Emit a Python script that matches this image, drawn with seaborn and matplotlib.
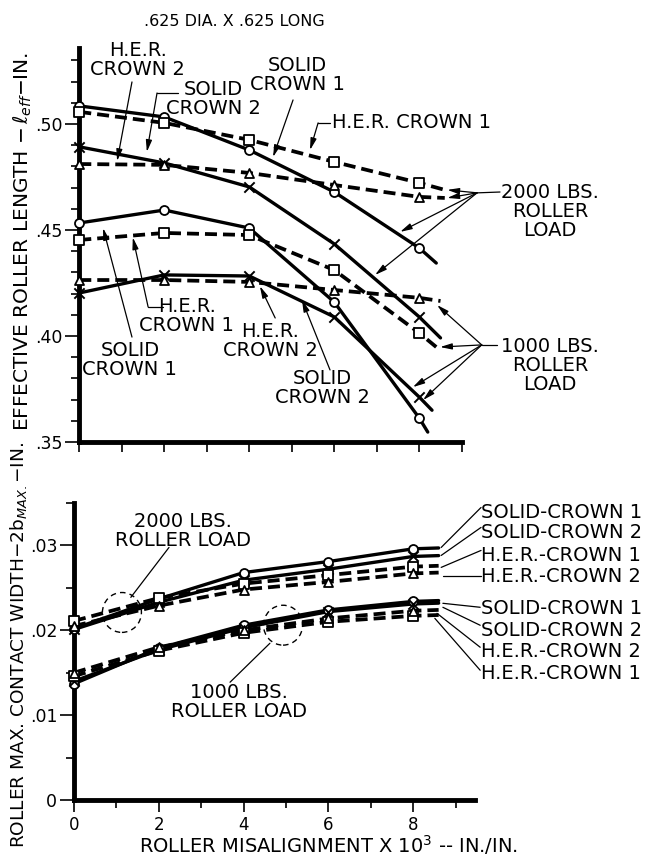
import numpy as np
import pandas as pd
import matplotlib
matplotlib.use('Agg')
import matplotlib.pyplot as plt
import seaborn as sns
from matplotlib.patches import Ellipse
from matplotlib.ticker import MultipleLocator

#----------------- values -------------------------------------

misalign = [0, 2, 4, 6, 8]          # roller misalignment x 10^3 in./in.

# effective roller length l_eff (in.) - top panel
leff_solid_c1_2000 = [.5085, .5033, .4877, .4679, .4415]
leff_solid_c2_2000 = [.4892, .4816, .4703, .4434, .4090]
leff_her_c1_2000 = [.5057, .5005, .4925, .4821, .4722]
leff_her_c2_2000 = [.4811, .4807, .4769, .4712, .4656]
leff_solid_c1_1000 = [.4533, .4594, .4509, .4160, .3613]
leff_solid_c2_1000 = [.4203, .4288, .4283, .4090, .3712]
leff_her_c1_1000 = [.4453, .4486, .4476, .4311, .4014]
leff_her_c2_1000 = [.4264, .4264, .4255, .4217, .4180]

# where each drawn curve stops past the last test point (x, l_eff)
leff_tails = {
    'solid_c1_2000': (8.4, .4344), 'solid_c2_2000': (8.5, .3991),
    'her_c1_2000': (8.6, .4689), 'her_c2_2000': (8.6, .4651),
    'solid_c1_1000': (8.2, .3547), 'solid_c2_1000': (8.3, .3650),
    'her_c1_1000': (8.4, .3948), 'her_c2_1000': (8.5, .4165),
}

# max contact width 2b_max (in.) - bottom panel
width_solid_c1_2000 = [.0202, .0237, .0268, .0281, .0296]
width_solid_c2_2000 = [.0201, .0233, .0259, .0272, .0287]
width_her_c1_2000 = [.0211, .0238, .0255, .0265, .0275]
width_her_c2_2000 = [.0205, .0229, .0248, .0257, .0267]
width_solid_c1_1000 = [.0137, .0179, .0206, .0224, .0234]
width_solid_c2_1000 = [.0140, .0177, .0203, .0222, .0231]
width_her_c1_1000 = [.0146, .0176, .0197, .0210, .0217]
width_her_c2_1000 = [.0150, .0180, .0200, .0214, .0223]

width_tails = {
    'solid_c1_2000': (8.6, .0297), 'solid_c2_2000': (8.6, .0288),
    'her_c1_2000': (8.6, .0276), 'her_c2_2000': (8.6, .0268),
    'solid_c1_1000': (8.6, .0235), 'solid_c2_1000': (8.6, .0232),
    'her_c1_1000': (8.6, .0218), 'her_c2_1000': (8.6, .0224),
}

leff = {
    'solid_c1_2000': leff_solid_c1_2000, 'solid_c2_2000': leff_solid_c2_2000,
    'her_c1_2000': leff_her_c1_2000, 'her_c2_2000': leff_her_c2_2000,
    'solid_c1_1000': leff_solid_c1_1000, 'solid_c2_1000': leff_solid_c2_1000,
    'her_c1_1000': leff_her_c1_1000, 'her_c2_1000': leff_her_c2_1000,
}
width = {
    'solid_c1_2000': width_solid_c1_2000, 'solid_c2_2000': width_solid_c2_2000,
    'her_c1_2000': width_her_c1_2000, 'her_c2_2000': width_her_c2_2000,
    'solid_c1_1000': width_solid_c1_1000, 'solid_c2_1000': width_solid_c2_1000,
    'her_c1_1000': width_her_c1_1000, 'her_c2_1000': width_her_c2_1000,
}

#----------------- drawing helpers ------------------

FS = 14
dash = (0, (3.2, 1.6))

def draw_curve(ax, name, ys, tail):
	solid = name.startswith('solid')
	mk = {'solid_c1': 'o', 'solid_c2': 'x', 'her_c1': 's', 'her_c2': '^'}[name[:-5]]
	xs = misalign + [tail[0]]
	yy = ys + [tail[1]]
	sns.lineplot(x=xs, y=yy, ax=ax, color='k', lw=2.4 if solid else 2.7,
	             linestyle='-' if solid else dash, estimator=None, sort=False, zorder=3)
	if mk == 'x':
		sns.scatterplot(x=misalign, y=ys, ax=ax, marker='x', color='k', s=55,
		                linewidth=1.4, zorder=5, clip_on=False)
	else:
		sns.scatterplot(x=misalign, y=ys, ax=ax, marker=mk, s=42, facecolor='white',
		                edgecolor='k', linewidth=1.3, zorder=5, clip_on=False)

def arrow(ax, start, tip):
	ax.annotate('', xy=tip, xytext=start, annotation_clip=False,
	            arrowprops=dict(arrowstyle='-|>,head_length=0.7,head_width=0.18',
	                            color='k', lw=0.9, shrinkA=0, shrinkB=0))

def leader(ax, start, end):
	ax.plot([start[0], end[0]], [start[1], end[1]], color='k', lw=0.9, clip_on=False)

def label(ax, txt, x, y, ha='center'):
	ax.text(x, y, txt, ha=ha, va='center', fontsize=FS, linespacing=1.0, clip_on=False)

def style_axes(ax):
	sns.despine(ax=ax)
	for s in ['left', 'bottom']:
		ax.spines[s].set_linewidth(3.5)
	ax.tick_params(which='major', length=10, width=1.2, pad=2, labelsize=12.5)
	ax.tick_params(which='minor', length=6, width=1.2)
	ax.set_xlabel('')
	ax.set_ylabel('')

#----------------- figure ------------------

sns.set_style('ticks')
plt.rcParams['font.family'] = ['DejaVu Sans']
plt.rcParams['mathtext.fontset'] = 'dejavusans'
for key in ['text.color', 'axes.labelcolor', 'xtick.color', 'ytick.color', 'axes.edgecolor']:
	plt.rcParams[key] = 'black'

fig = plt.figure(figsize=(6.59, 8.56), dpi=100)
ax1 = fig.add_axes([0.1203, 0.4836, 0.5804, 0.4603])
ax2 = fig.add_axes([0.1123, 0.0654, 0.6080, 0.3470])

# top panel
for name, ys in leff.items():
	draw_curve(ax1, name, ys, leff_tails[name])
ax1.set_xlim(0, 9)
ax1.set_ylim(.35, .5358)
ax1.xaxis.set_major_locator(MultipleLocator(1))
ax1.set_yticks([.35, .40, .45, .50])
ax1.set_yticklabels(['.35', '.40', '.45', '.50'])
ax1.yaxis.set_minor_locator(MultipleLocator(.01))
style_axes(ax1)
ax1.tick_params(axis='x', labelbottom=False, length=7)

for txt, x, y in [("H.E.R.\nCROWN 2", 1.38, .5302), ("SOLID\nCROWN 2", 3.15, .5118),
                  ("SOLID\nCROWN 1", 5.13, .5231), ("H.E.R.\nCROWN 1", 2.53, .4094),
                  ("SOLID\nCROWN 1", 1.19, .3887), ("H.E.R.\nCROWN 2", 4.49, .3976),
                  ("SOLID\nCROWN 2", 5.71, .3755),
                  ("2000 LBS.\nROLLER\nLOAD", 11.08, .4585),
                  ("1000 LBS.\nROLLER\nLOAD", 11.08, .3863)]:
	label(ax1, txt, x, y)
label(ax1, "H.E.R. CROWN 1", 5.95, .5005, ha='left')

for start, tip in [((1.24, .5198), (0.89, .4825)), ((1.83, .5146), (1.59, .4868)),
                   ((5.03, .5113), (4.56, .4844)), ((5.62, .5005), (5.43, .4877)),
                   ((9.36, .4675), (8.66, .4689)), ((9.36, .4675), (8.66, .4651)),
                   ((9.36, .4675), (7.55, .4491)), ((9.36, .4675), (6.96, .4288)),
                   ((9.47, .3958), (8.42, .4146)), ((9.47, .3958), (8.49, .3948)),
                   ((9.47, .3958), (7.85, .3759)), ((9.47, .3958), (8.09, .3698)),
                   ((1.62, .4137), (1.26, .4465)), ((1.24, .3995), (0.56, .4509)),
                   ((4.61, .4085), (4.25, .4235)), ((5.90, .3840), (5.24, .4170))]:
	arrow(ax1, start, tip)
for a, b in [((2.33, .5146), (1.83, .5146)), ((5.90, .5005), (5.62, .5005)),
             ((9.90, .4679), (9.36, .4675)), ((9.83, .3958), (9.47, .3958)),
             ((1.97, .4137), (1.62, .4137))]:
	leader(ax1, a, b)

# bottom panel
for name, ys in width.items():
	draw_curve(ax2, name, ys, width_tails[name])
ax2.set_xlim(0, 9.45)
ax2.set_ylim(0, .035)
ax2.set_xticks([0, 2, 4, 6, 8])
ax2.xaxis.set_minor_locator(MultipleLocator(1))
ax2.set_yticks([0, .01, .02, .03])
ax2.set_yticklabels(['0', '.01', '.02', '.03'])
ax2.yaxis.set_minor_locator(MultipleLocator(.005))
style_axes(ax2)
ax2.tick_params(axis='x', which='major', length=8.6, labelsize=12, pad=3)
ax2.tick_params(axis='x', which='minor', length=5.8)

for cx, cy in [(1.13, .0221), (4.93, .0206)]:
	ax2.add_patch(Ellipse((cx, cy), 0.92, .0047, fill=False, ec='k', lw=1.0, ls=(0, (4, 3)), zorder=6))
label(ax2, "2000 LBS.\nROLLER LOAD", 2.57, .03165)
label(ax2, "1000 LBS.\nROLLER LOAD", 3.89, .01153)
leader(ax2, (2.24, .02976), (1.34, .02388))
leader(ax2, (3.68, .01388), (4.62, .01847))

right_labels = [("SOLID-CROWN 1", .03388), ("SOLID-CROWN 2", .03153),
                ("H.E.R.-CROWN 1", .02882), ("H.E.R.-CROWN 2", .02635),
                ("SOLID-CROWN 1", .02259), ("SOLID-CROWN 2", .02000),
                ("H.E.R.-CROWN 2", .01753), ("H.E.R.-CROWN 1", .01494)]
for txt, y in right_labels:
	label(ax2, txt, 9.6, y, ha='left')
for a, b in [((9.6, .03447), (8.66, .02976)), ((9.6, .03212), (8.66, .02882)),
             ((9.6, .02941), (8.66, .02741)), ((9.6, .02635), (8.70, .02635)),
             ((9.58, .02271), (8.70, .02318)), ((9.58, .02059), (8.70, .02271)),
             ((9.58, .01800), (8.56, .02200)), ((9.58, .01529), (8.51, .02141))]:
	leader(ax2, a, b)

# titles / axis labels
fig.text(234/659, 1-21/856, ".625 DIA. X .625 LONG", ha='center', va='center', fontsize=11.5)
fig.text(23/659, 1-241/856, r"EFFECTIVE ROLLER LENGTH $-\,\ell_{eff}$$-$IN.",
         ha='center', va='center', rotation=90, fontsize=14.5)
fig.text(19/659, 1-645/856, r"ROLLER MAX. CONTACT WIDTH$-$2b$_{MAX.}$$-$IN.",
         ha='center', va='center', rotation=90, fontsize=13.3)
fig.text(328/659, 1-845/856, r"ROLLER MISALIGNMENT X 10$^3$ -- IN./IN.",
         ha='center', va='center', fontsize=14)

plt.savefig('out.png', dpi=100)
